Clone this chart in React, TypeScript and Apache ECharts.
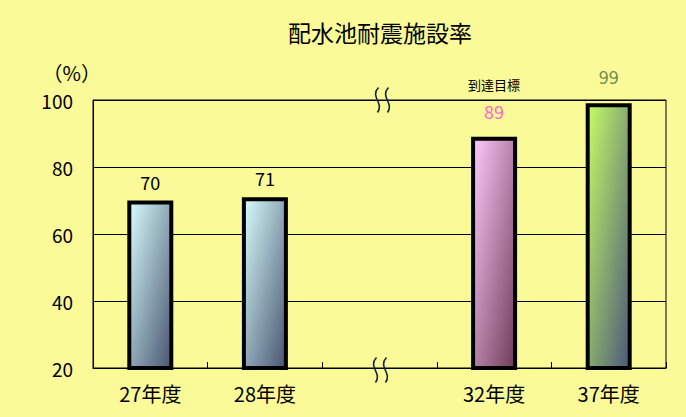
import React, { useEffect, useRef } from "react";
import * as echarts from "echarts";

const categories = ["27年度", "28年度", "", "32年度", "37年度"];
const values: (number | null)[] = [70, 71, null, 89, 99];
const targetNote = "到達目標";
const yMin = 20;
const yMax = 100;
const yStep = 20;
const titleText = "配水池耐震施設率";
const unitText = "（%）";

const FONT = '"Noto Sans CJK JP", "Noto Sans", sans-serif';
const BG = "#FAFA98";
const barGradients = [
  ["#d8fdfd", "#485470"],
  ["#d8fdfd", "#485470"],
  ["#ffffff", "#ffffff"],
  ["#fdcafd", "#6e3c56"],
  ["#c6fd66", "#4a5878"],
];
const labelColors = ["#000000", "#000000", "#000000", "#ff66cc", "#6f8a4f"];
const labelDistances = [10, 10, 10, 13, 18];

export default function App() {
  const ref = useRef<HTMLDivElement>(null);
  useEffect(() => {
    if (!ref.current) return;
    const chart = echarts.init(ref.current, undefined, { renderer: "svg" });
    const data = values.map((v, i) => {
      if (v === null) return { value: null };
      const item: any = {
        value: v,
        itemStyle: {
          color: new echarts.graphic.LinearGradient(0, 0, 1, 1, [
            { offset: 0, color: barGradients[i][0] },
            { offset: 1, color: barGradients[i][1] },
          ]),
        },
        label: {
          color: labelColors[i],
          distance: labelDistances[i],
        },
      };
      if (i === 3) {
        item.label.formatter = "{a|" + targetNote + "}\n{b|{c}}";
        item.label.rich = {
          a: { fontSize: 13, color: "#000", lineHeight: 26, fontFamily: FONT },
          b: { fontSize: 18, color: labelColors[i], lineHeight: 26, fontFamily: FONT },
        };
      }
      return item;
    });
    chart.setOption({
      animation: false,
      backgroundColor: BG,
      title: {
        text: titleText,
        left: 375,
        top: 15,
        textAlign: "center",
        textStyle: { fontSize: 23, fontWeight: "normal", color: "#000", fontFamily: FONT },
      },
      grid: {
        left: 93,
        right: 20,
        top: 100,
        bottom: 49,
        show: true,
        borderColor: "#000",
        borderWidth: 1,
        backgroundColor: BG,
      },
      xAxis: {
        type: "category",
        data: categories,
        axisLine: { lineStyle: { color: "#000", width: 1 } },
        axisTick: { show: true, inside: true, length: 6, lineStyle: { color: "#000" } },
        axisLabel: { color: "#000", fontSize: 20, margin: 15, fontFamily: FONT },
      },
      yAxis: {
        type: "value",
        min: yMin,
        max: yMax,
        interval: yStep,
        name: unitText,
        nameLocation: "end",
        nameGap: 28,
        nameTextStyle: {
          color: "#000",
          fontSize: 20,
          fontFamily: FONT,
          align: "right",
          verticalAlign: "middle",
          padding: [0, -8, 0, 0],
        },
        axisLine: { show: true, lineStyle: { color: "#000", width: 1 } },
        axisTick: { show: false },
        axisLabel: { color: "#000", fontSize: 19, margin: 20, fontFamily: FONT },
        splitLine: { lineStyle: { color: "#000", width: 1 } },
      },
      series: [
        {
          type: "bar",
          data,
          barWidth: 46,
          itemStyle: { borderColor: "#000", borderWidth: 4 },
          label: {
            show: true,
            position: "top",
            fontSize: 18,
            fontFamily: FONT,
          },
        },
      ],
    });

    const cx = chart.convertToPixel({ xAxisIndex: 0 }, 2) as number;
    const yTop = chart.convertToPixel({ yAxisIndex: 0 }, yMax) as number;
    const yBot = chart.convertToPixel({ yAxisIndex: 0 }, yMin) as number;
    const wave = (x: number, yc: number) => ({
      type: "bezierCurve",
      shape: {
        x1: x + 2,
        y1: yc - 12.5,
        cpx1: x - 7,
        cpy1: yc - 3,
        cpx2: x + 8,
        cpy2: yc + 3,
        x2: x + 1,
        y2: yc + 12.5,
      },
      style: { stroke: "#14233c", lineWidth: 1.6, fill: null },
      z: 100,
    });
    chart.setOption({
      graphic: [
        wave(cx - 3, yTop),
        wave(cx + 7, yTop),
        wave(cx - 5, yBot + 2),
        wave(cx + 5, yBot + 2),
      ],
    });

    return () => chart.dispose();
  }, []);
  return (
    <div
      ref={ref}
      style={{ position: "absolute", left: 0, top: 0, width: 686, height: 417 }}
    />
  );
}
